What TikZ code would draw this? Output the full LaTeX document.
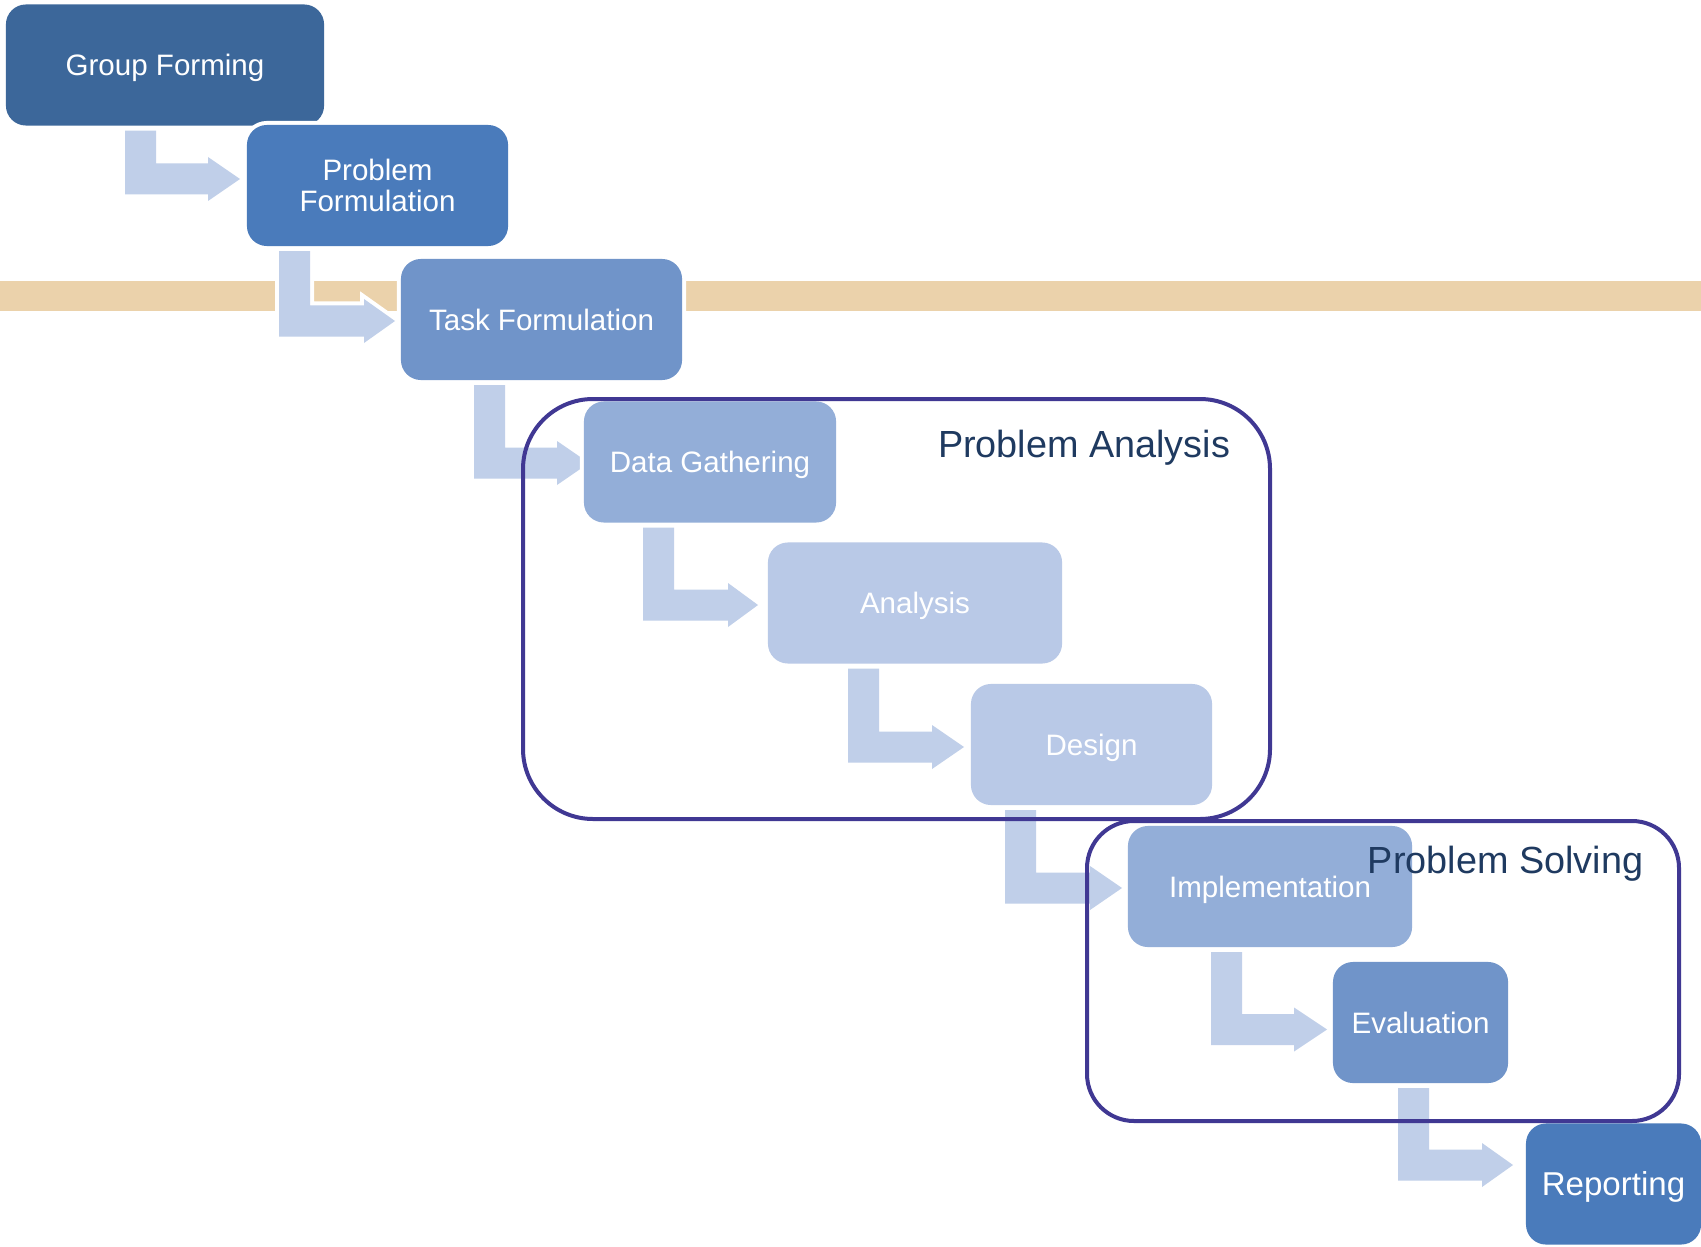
\documentclass[tikz,border=0pt]{standalone}
\usepackage{fontspec}
\setmainfont{Liberation Sans}
\usepackage{tikz}
\usetikzlibrary{calc}
\usetikzlibrary{positioning}

\definecolor{stepdark}{RGB}{60,103,154}
\definecolor{stepmid}{RGB}{74,123,187}
\definecolor{steplight}{RGB}{112,148,201}
\definecolor{steppale}{RGB}{147,174,216}
\definecolor{stepfaint}{RGB}{185,201,231}
\definecolor{flowblue}{RGB}{192,207,233}
\definecolor{tanband}{RGB}{235,210,171}
\definecolor{framepurple}{RGB}{64,56,147}
\definecolor{labelnavy}{RGB}{31,58,96}

\pgfdeclarelayer{back}
\pgfdeclarelayer{mid}
\pgfsetlayers{back,mid,main}

% from, to, shaft x, head base x, tip x, tip y shift
\newcommand{\bentarrow}[6]{%
  \coordinate (ta) at ($(#1.south)+(0,5)$);
  \coordinate (hc) at ($(#2.west)+(0,#6)$);
  \fill[flow] (#3,0 |- ta) -- (#3+31,0 |- ta)
    -- ($(#3+31,0 |- hc)+(0,-15.5)$) -- ($(#4,0 |- hc)+(0,-15.5)$)
    -- ($(#4,0 |- hc)+(0,-22)$) -- (#5,0 |- hc)
    -- ($(#4,0 |- hc)+(0,22)$) -- ($(#4,0 |- hc)+(0,15.5)$)
    -- ($(#3,0 |- hc)+(0,15.5)$) -- cycle;
}

\begin{document}
\begin{tikzpicture}[x=0.01cm, y=-0.01cm,
    box/.style={rounded corners=0.2cm, inner sep=0pt, outer sep=0pt,
      minimum height=1.21cm, text=white, align=center,
      font=\fontsize{8.4}{8.8}\selectfont,
      preaction={draw=white, line width=0.08cm}},
    oneline/.style={text height=6pt, text depth=0pt},
    flow/.style={fill=flowblue, preaction={draw=white, line width=0.08cm}},
    grpframe/.style={draw=framepurple, line width=0.04cm},
    grplabel/.style={text=labelnavy, anchor=base, inner sep=0pt,
      font=\fontsize{10.75}{12}\selectfont}]
  \useasboundingbox (0,0) rectangle (1701,1246);

  \node[box, oneline, fill=stepdark, minimum width=3.18cm] (gf) at (165,65) {Group Forming};
  \node[box, fill=stepmid, minimum width=2.61cm] (pf) at (377.5,185.5) {Problem\\Formulation};
  \node[box, oneline, fill=steplight, minimum width=2.81cm] (tf) at (541.5,319.5) {Task Formulation};
  \node[box, oneline, fill=steppale, minimum width=2.52cm] (dg) at (710,462) {Data Gathering};
  \node[box, oneline, fill=stepfaint, minimum width=2.94cm] (an) at (915,603) {Analysis};
  \node[box, oneline, fill=stepfaint, minimum width=2.41cm] (de) at (1091.5,744.5) {Design};
  \node[box, oneline, fill=steppale, minimum width=2.84cm] (im) at (1270,886.5) {Implementation};
  \node[box, oneline, fill=steplight, minimum width=1.75cm] (ev) at (1420.5,1022.5) {Evaluation};
  \node[box, fill=stepmid, minimum width=1.75cm, font=\fontsize{9.4}{10}\selectfont,
    text height=6.7pt, text depth=0pt] (re) at (1613.5,1184) {Reporting};

  \begin{pgfonlayer}{back}
    \fill[tanband] (0,281.5) rectangle (1701,311.5);
  \end{pgfonlayer}

  \begin{pgfonlayer}{mid}
    \bentarrow{gf}{pf}{125}{208}{240}{-6.5}
    \bentarrow{pf}{tf}{279}{364}{395}{1.5}
    \bentarrow{tf}{dg}{474}{557}{589}{1}
    \bentarrow{dg}{an}{643}{728}{758}{2}
    \bentarrow{an}{de}{848}{932}{964}{2.5}
    \bentarrow{de}{im}{1005}{1090}{1122}{1.5}
    \bentarrow{im}{ev}{1211}{1294}{1327}{7}
    \bentarrow{ev}{re}{1398}{1482}{1513}{-19}
  \end{pgfonlayer}

  \draw[grpframe, rounded corners=0.7cm] (523,399) rectangle (1270,819);
  \draw[grpframe, rounded corners=0.47cm] (1087,821) rectangle (1679,1121);
  \node[grplabel] (pa) at (1084,457) {Problem Analysis};
  \node[grplabel] (ps) at (1505.5,873) {Problem Solving};
\end{tikzpicture}
\end{document}
